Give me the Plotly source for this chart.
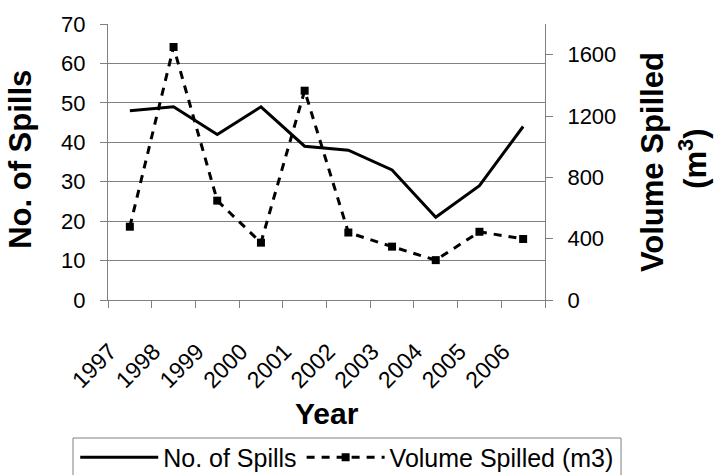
import plotly.graph_objects as go

years = ["1997", "1998", "1999", "2000", "2001", "2002", "2003", "2004", "2005", "2006"]
spills = [48, 49, 42, 49, 39, 38, 33, 21, 29, 44]
volume = [478, 1650, 648, 374, 1365, 440, 348, 260, 445, 398]

left_ticks = [0, 10, 20, 30, 40, 50, 60, 70]
right_ticks = [0, 400, 800, 1200, 1600]

FONT = "Liberation Sans, Arial, sans-serif"
GRAY = "#808080"

fig = go.Figure()
fig.add_trace(go.Scatter(
    x=years, y=spills, name="No. of Spills", mode="lines",
    line=dict(color="black", width=3), yaxis="y"))
fig.add_trace(go.Scatter(
    x=years, y=volume, name="Volume Spilled (m3)", mode="lines+markers",
    line=dict(color="black", width=3, dash="8px,7px"),
    marker=dict(symbol="square", size=8, color="black"), yaxis="y2"))

fig.update_layout(
    width=716, height=475,
    margin=dict(l=108, r=171, t=24, b=175, autoexpand=False),
    paper_bgcolor="white", plot_bgcolor="white",
    font=dict(family=FONT, size=22, color="black"),
    showlegend=True,
    legend=dict(orientation="h", x=-0.075, y=-0.487, xanchor="left", yanchor="top",
                borderwidth=0, bgcolor="rgba(0,0,0,0)",
                font=dict(size=25), itemwidth=78),
    xaxis=dict(type="category", tickson="boundaries", ticks="outside", ticklen=7,
               tickcolor=GRAY, showline=True, linecolor=GRAY, linewidth=1,
               showgrid=False, tickangle=-45, tickfont=dict(size=23),
               ticklabelshift=-20, ticklabelstandoff=28,
               range=[-0.5, 9.5], automargin=False),
    yaxis=dict(range=[0, 70], tickvals=left_ticks, ticks="outside", ticklen=7,
               tickcolor=GRAY, showline=True, linecolor=GRAY, linewidth=1,
               showgrid=True, gridcolor=GRAY, gridwidth=1, zeroline=False,
               ticklabelstandoff=10, automargin=False),
    yaxis2=dict(range=[0, 1800], tickvals=right_ticks, overlaying="y", side="right",
                anchor="x", ticks="outside", ticklen=7, tickcolor=GRAY,
                showline=True, linecolor=GRAY, linewidth=1, showgrid=False,
                zeroline=False, ticklabelstandoff=10, automargin=False),
    shapes=[
        dict(type="rect", xref="paper", yref="paper", x0=-0.0801, x1=1.174,
             y0=-0.5, y1=-0.75, line=dict(color=GRAY, width=1), fillcolor="rgba(0,0,0,0)",
             layer="above"),
    ],
    annotations=[
        dict(text="<b>No. of Spills</b>", xref="paper", yref="paper", x=-0.2, y=0.51,
             textangle=-90, showarrow=False, font=dict(size=31), xanchor="center", yanchor="middle"),
        dict(text="<b>Volume Spilled</b>", xref="paper", yref="paper", x=1.245, y=0.5,
             textangle=-90, showarrow=False, font=dict(size=31), xanchor="center", yanchor="middle"),
        dict(text="<b>(m<sup>3</sup>)</b>", xref="paper", yref="paper", x=1.34, y=0.51,
             textangle=-90, showarrow=False, font=dict(size=31), xanchor="center", yanchor="middle"),
        dict(text="<b>Year</b>", xref="paper", yref="paper", x=0.5, y=-0.413,
             showarrow=False, font=dict(size=30), xanchor="center", yanchor="middle"),
    ],
)

fig.write_html("out.html", config={"displayModeBar": False},
               post_script="document.body.style.margin='0';document.body.style.padding='0';")
